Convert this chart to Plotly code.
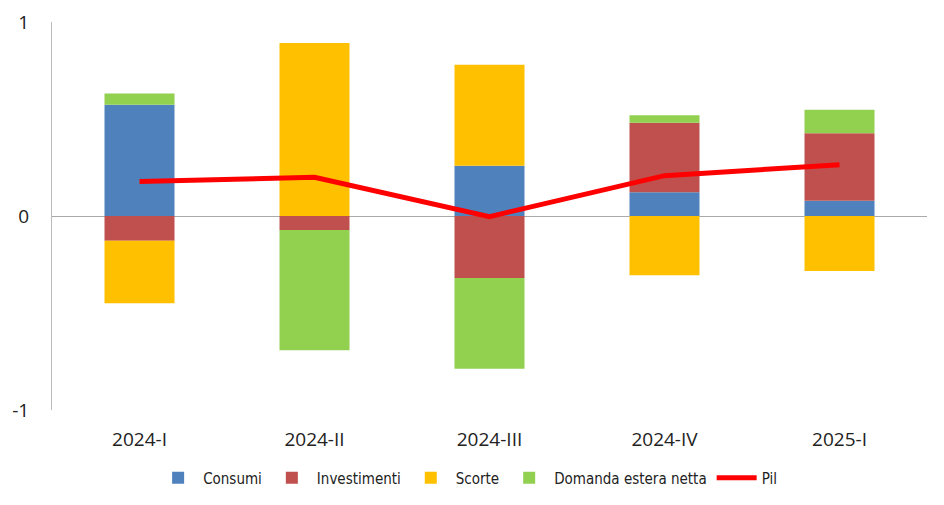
import plotly.graph_objects as go

categories = ["2024-I", "2024-II", "2024-III", "2024-IV", "2025-I"]
consumi = [0.574, 0.0, 0.259, 0.122, 0.079]
investimenti = [-0.127, -0.072, -0.32, 0.359, 0.347]
scorte = [-0.323, 0.892, 0.521, -0.306, -0.284]
domanda_estera = [0.057, -0.62, -0.467, 0.038, 0.122]
pil = [0.178, 0.2, -0.003, 0.208, 0.264]
y_ticks = [-1, 0, 1]
y_tick_labels = ["-1", "0", "1"]

fig = go.Figure()
series = [
    ("Consumi", consumi, "#4F81BD"),
    ("Investimenti", investimenti, "#C0504D"),
    ("Scorte", scorte, "#FFC000"),
    ("Domanda estera netta", domanda_estera, "#92D050"),
]
for name, vals, col in series:
    fig.add_trace(go.Bar(x=categories, y=vals, name=name,
                         marker=dict(color=col, line=dict(width=0))))
fig.add_trace(go.Scatter(x=categories, y=pil, name="Pil", mode="lines",
                         line=dict(color="#FF0000", width=5)))

fig.update_layout(
    width=944, height=505,
    margin=dict(l=44, r=25, t=14, b=103),
    barmode="relative", bargap=0.6,
    plot_bgcolor="white", paper_bgcolor="white",
    font=dict(family="Open Sans", size=19, color="#222222"),
    showlegend=True,
    legend=dict(orientation="h", x=0.475, xanchor="center", y=-0.175, yanchor="middle",
                traceorder="normal", font=dict(size=15, family="DejaVu Sans Condensed", color="#222222"),
                itemwidth=40),
)
fig.update_yaxes(range=[-1, 1], tickvals=y_ticks, ticktext=y_tick_labels, showgrid=False,
                 showline=True, linecolor="#BBBBBB", linewidth=1,
                 zeroline=True, zerolinecolor="#AAAAAA", zerolinewidth=1,
                 ticks="", ticklabelstandoff=18, automargin=False)
fig.update_xaxes(showgrid=False, showline=False, ticks="", ticklabelstandoff=16,
                 automargin=False)

fig.write_html("out.html")
